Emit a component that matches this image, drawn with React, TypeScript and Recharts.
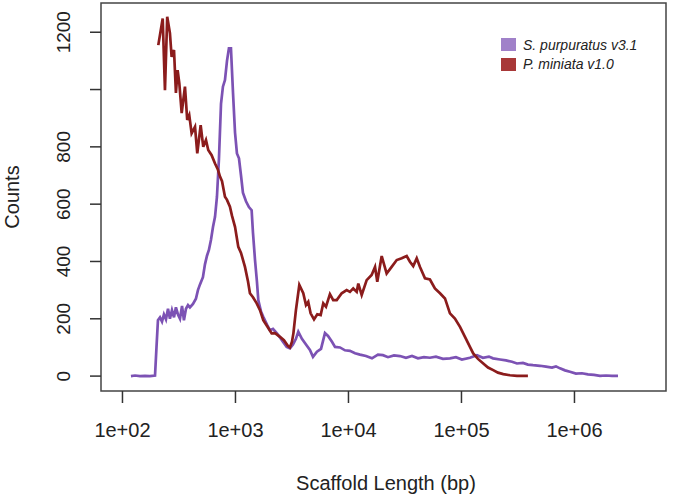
import React from 'react';
import { LineChart, Line, XAxis, YAxis, ReferenceArea } from 'recharts';

// log10(scaffold length) and counts
const purpLogLen = [
  2.075, 2.111, 2.155, 2.199, 2.243, 2.288, 2.301, 2.314, 2.332, 2.35, 2.367, 2.385, 2.403, 2.42,
  2.438, 2.456, 2.473, 2.491, 2.509, 2.527, 2.544, 2.562, 2.58, 2.597, 2.624, 2.65, 2.668, 2.686,
  2.712, 2.73, 2.748, 2.765, 2.783, 2.801, 2.819, 2.836, 2.854, 2.872, 2.889, 2.907, 2.925, 2.942,
  2.96, 2.978, 2.996, 3.013, 3.031, 3.049, 3.066, 3.093, 3.119, 3.143, 3.155, 3.173, 3.19, 3.202,
  3.226, 3.246, 3.279, 3.305, 3.332, 3.365, 3.394, 3.42, 3.453, 3.482, 3.509, 3.535, 3.556, 3.588,
  3.624, 3.659, 3.686, 3.721, 3.757, 3.792, 3.819, 3.854, 3.881, 3.925, 3.969, 4.013, 4.058, 4.102,
  4.155, 4.208, 4.261, 4.305, 4.35, 4.403, 4.456, 4.509, 4.562, 4.615, 4.668, 4.721, 4.774, 4.836,
  4.898, 4.951, 5.004, 5.075, 5.137, 5.19, 5.243, 5.279, 5.341, 5.394, 5.447, 5.491, 5.544, 5.588,
  5.633, 5.695, 5.748, 5.801, 5.836, 5.872, 5.916, 5.96, 6.013, 6.066, 6.119, 6.173, 6.226, 6.279,
  6.332, 6.385,
];
const purpCounts = [
  0, 2, 0, 1, 0, 2, 100, 195, 205, 190, 215, 198, 235, 200,
  230, 205, 240, 215, 200, 245, 195, 235, 248, 240, 252, 270, 300, 320,
  345, 390, 420, 440, 475, 520, 556, 625, 760, 950, 1010, 1033, 1100, 1144,
  1144, 990, 850, 777, 760, 700, 640, 610, 590, 579, 500, 405, 330, 265,
  225, 207, 180, 160, 165, 150, 135, 120, 102, 97, 110, 130, 155, 130,
  110, 91, 67, 85, 95, 150, 140, 120, 102, 100, 90, 88, 80, 75,
  70, 62, 75, 73, 66, 72, 70, 64, 70, 62, 66, 64, 68, 60,
  62, 66, 58, 64, 73, 64, 68, 62, 58, 55, 50, 44, 46, 40,
  38, 36, 33, 30, 34, 27, 20, 15, 9, 10, 6, 4, 1, 2,
  1, 1,
];

const minLogLen = [
  2.317, 2.356, 2.376, 2.396, 2.42, 2.435, 2.456, 2.473, 2.488, 2.503, 2.524, 2.553, 2.573, 2.591,
  2.612, 2.642, 2.662, 2.692, 2.715, 2.739, 2.759, 2.789, 2.819, 2.845, 2.863, 2.881, 2.907, 2.925,
  2.951, 2.969, 2.996, 3.025, 3.049, 3.084, 3.111, 3.128, 3.155, 3.188, 3.217, 3.246, 3.279, 3.32,
  3.35, 3.394, 3.429, 3.465, 3.482, 3.5, 3.513, 3.535, 3.565, 3.6, 3.624, 3.644, 3.665, 3.695,
  3.724, 3.754, 3.777, 3.801, 3.836, 3.865, 3.896, 3.94, 3.984, 4.013, 4.042, 4.073, 4.087, 4.117,
  4.161, 4.205, 4.235, 4.255, 4.294, 4.338, 4.382, 4.427, 4.471, 4.515, 4.544, 4.573, 4.604, 4.633,
  4.677, 4.721, 4.765, 4.81, 4.854, 4.898, 4.942, 4.987, 5.031, 5.075, 5.104, 5.146, 5.193, 5.235,
  5.281, 5.323, 5.37, 5.429, 5.491, 5.544, 5.588,
];
const minCounts = [
  1155, 1248, 998, 1254, 1197, 1114, 1138, 988, 1068, 1022, 918, 1010, 894, 911,
  847, 870, 777, 876, 800, 824, 789, 771, 742, 720, 696, 680, 626, 615,
  591, 560, 521, 451, 430, 381, 330, 289, 275, 254, 230, 195, 175, 149,
  150, 137, 125, 105, 100, 120, 150, 230, 318, 289, 248, 259, 219, 198,
  216, 213, 254, 242, 286, 265, 265, 289, 300, 294, 306, 294, 323, 283,
  335, 353, 381, 329, 419, 358, 381, 405, 411, 419, 399, 384, 411, 381,
  341, 337, 306, 289, 271, 219, 201, 172, 137, 102, 79, 60, 44, 30,
  21, 12, 7, 3, 1, 1, 1,
];

const xTicks = [2, 3, 4, 5, 6];
const yTicks = [0, 200, 400, 600, 800, 1000, 1200];
const seriesNames = ['S. purpuratus v3.1', 'P. miniata v1.0'];

const purpData = purpLogLen.map((x, i) => ({ x, y: purpCounts[i] }));
const minData = minLogLen.map((x, i) => ({ x, y: minCounts[i] }));

const FONT = '"Liberation Sans", Arial, Helvetica, sans-serif';
const PURPLE = '#7c52b4';
const RED = '#8b1c1c';

const XTick = (props: any) => (
  <text x={props.x} y={437} textAnchor="middle" fontSize={20} fontFamily={FONT} fill="#222">
    {`1e+0${props.payload.value}`}
  </text>
);

const YTick = (props: any) => {
  const v = props.payload.value;
  if (v === 1000) return null; // R drops this label (overlap)
  return (
    <text
      x={70}
      y={props.y}
      transform={`rotate(-90, 70, ${props.y})`}
      textAnchor="middle"
      fontSize={19}
      fontFamily={FONT}
      fill="#222"
    >
      {v}
    </text>
  );
};

const LegendBox = () => (
  <div
    style={{
      position: 'absolute',
      left: 501,
      top: 35,
      fontFamily: FONT,
      fontSize: 14,
      fontStyle: 'italic',
      color: '#222',
    }}
  >
    {[PURPLE, RED].map((c, i) => (
      <div key={i} style={{ display: 'flex', alignItems: 'center', height: 19.5 }}>
        <span
          style={{
            display: 'inline-block',
            width: 15,
            height: 13,
            background: i === 0 ? '#a081c9' : '#a83838',
            marginRight: 7,
          }}
        />
        {seriesNames[i]}
      </div>
    ))}
  </div>
);

export default function App() {
  return (
    <div style={{ position: 'absolute', left: 0, top: 0, width: 677, height: 496, background: '#fff' }}>
      <LineChart width={677} height={496} margin={{ top: 3, right: 11, bottom: 0, left: 0 }}>
        <XAxis
          type="number"
          dataKey="x"
          domain={[1.81, 6.81]}
          ticks={xTicks}
          allowDataOverflow
          axisLine={false}
          tickLine={{ stroke: '#333', strokeWidth: 1.5 }}
          tickSize={12}
          tick={<XTick />}
          height={105}
          label={{
            content: () => (
              <text x={386} y={490} textAnchor="middle" fontSize={20} fontFamily={FONT} fill="#222">
                Scaffold Length (bp)
              </text>
            ),
          }}
        />
        <YAxis
          type="number"
          domain={[-52, 1302]}
          ticks={yTicks}
          allowDataOverflow
          axisLine={false}
          tickLine={{ stroke: '#333', strokeWidth: 1.5 }}
          tickSize={11}
          tick={<YTick />}
          width={101}
          label={{
            content: () => (
              <text
                x={19}
                y={197}
                transform="rotate(-90, 19, 197)"
                textAnchor="middle"
                fontSize={20}
                fontFamily={FONT}
                fill="#222"
              >
                Counts
              </text>
            ),
          }}
        />
        <ReferenceArea x1={1.81} x2={6.81} y1={-52} y2={1302} fill="none" stroke="#444" strokeWidth={1.5} />
        <Line
          data={purpData}
          dataKey="y"
          name={seriesNames[0]}
          type="linear"
          stroke={PURPLE}
          strokeWidth={2.7}
          dot={false}
          isAnimationActive={false}
        />
        <Line
          data={minData}
          dataKey="y"
          name={seriesNames[1]}
          type="linear"
          stroke={RED}
          strokeWidth={2.7}
          dot={false}
          isAnimationActive={false}
        />
      </LineChart>
      <LegendBox />
    </div>
  );
}
